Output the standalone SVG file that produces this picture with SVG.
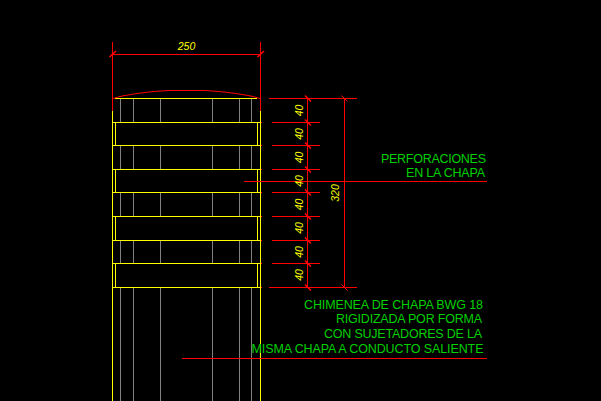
<svg xmlns="http://www.w3.org/2000/svg" width="601" height="401" viewBox="0 0 601 401">
<style>
.y{stroke:#ffff00;stroke-width:1;fill:none}
.g{stroke:#808080;stroke-width:1;fill:none}
.r{stroke:#ff0000;stroke-width:1;fill:none}
.t{stroke:#ff0000;stroke-width:1.6;fill:none}
.d{fill:#ffff00;font:italic 10.500px "Liberation Sans",sans-serif;text-anchor:middle}
.n{fill:#00d000;font:12.500px "Liberation Sans",sans-serif}
</style>
<rect width="601" height="401" fill="#000"/>
<g id="grises">
<path class="g" d="M120.500 98V122M133.500 98V122M160.500 98V122M212.500 98V122M239.500 98V122M251.500 98V122M120.500 146V169M133.500 146V169M160.500 146V169M212.500 146V169M239.500 146V169M251.500 146V169M120.500 193V216M133.500 193V216M160.500 193V216M212.500 193V216M239.500 193V216M251.500 193V216M120.500 241V263M133.500 241V263M160.500 241V263M212.500 241V263M239.500 241V263M251.500 241V263M120.500 288V401M133.500 288V401M160.500 288V401M212.500 288V401M239.500 288V401M251.500 288V401"/>
</g>
<g id="chimenea">
<path class="y" d="M112.500 111V401M260.500 111V401"/>
<path class="y" d="M115 98.500H257M113 122.500H260M113 145.500H260M113 169.500H260M113 192.500H260M113 216.500H260M113 240.500H260M113 263.500H260M113 287.500H260"/>
<path class="y" d="M115.500 122V146M115.500 169V193M115.500 216V241M115.500 263V288M257.500 122V146M257.500 169V193M257.500 216V241M257.500 263V288"/>
</g>
<g id="conectores">
<path class="r" d="M112.500 42V111M260.500 42V111M112 54.500H261"/>
<path class="t" d="M109.500 57L116 51M257.500 57L264 51"/>
<polyline class="r" points="113,98.500 120,96.500 125,95.500 131,94.500 137,93.500 145,92.500 154,91.500 168,90.500 205,90.500 219,91.500 228,92.500 236,93.500 242,94.500 248,95.500 253,96.500 260,98.500"/>
<path class="r" d="M261 122.500H262M261 145.500H262M261 169.500H262M261 192.500H262M261 216.500H262M261 240.500H262M261 263.500H262M261 287.500H262"/>
<path class="r" d="M269 98.500H357M272 122.500H320M272 145.500H320M272 169.500H320M272 192.500H320M272 216.500H320M272 240.500H320M272 263.500H320M269 287.500H357"/>
<path class="r" d="M307.500 98V288M344.500 98V288"/>
<path class="t" d="M305 95.500L311 101.500M305 119.500L311 125.500M305 142.500L311 148.500M305 166.500L311 172.500M305 189.500L311 195.500M305 213.500L311 219.500M305 237.500L311 243.500M305 260.500L311 266.500M305 284.500L311 290.500"/>
<path class="r" d="M341.500 95.500L347.500 101.500M341.500 284.500L347.500 290.500"/>
<path class="r" d="M244 181.500H487M182 358.500H487"/>
</g>
<g id="cotas">
<text class="d" x="186.500" y="49.500">250</text>
<text class="d" transform="translate(302.500 110.500) rotate(-90)">40</text>
<text class="d" transform="translate(302.500 134) rotate(-90)">40</text>
<text class="d" transform="translate(302.500 157.500) rotate(-90)">40</text>
<text class="d" transform="translate(302.500 181) rotate(-90)">40</text>
<text class="d" transform="translate(302.500 204.500) rotate(-90)">40</text>
<text class="d" transform="translate(302.500 228) rotate(-90)">40</text>
<text class="d" transform="translate(302.500 252) rotate(-90)">40</text>
<text class="d" transform="translate(302.500 275) rotate(-90)">40</text>
<text class="d" transform="translate(339 193) rotate(-90)">320</text>
</g>
<g id="notas">
<text class="n" x="381" y="163" textLength="105">PERFORACIONES</text>
<text class="n" x="406" y="177" textLength="79">EN LA CHAPA</text>
<text class="n" x="304" y="309" textLength="179">CHIMENEA DE CHAPA BWG 18</text>
<text class="n" x="336" y="323" textLength="146">RIGIDIZADA POR FORMA</text>
<text class="n" x="324" y="338" textLength="158">CON SUJETADORES DE LA</text>
<text class="n" x="251.500" y="353" textLength="232">MISMA CHAPA A CONDUCTO SALIENTE</text>
</g>
</svg>
